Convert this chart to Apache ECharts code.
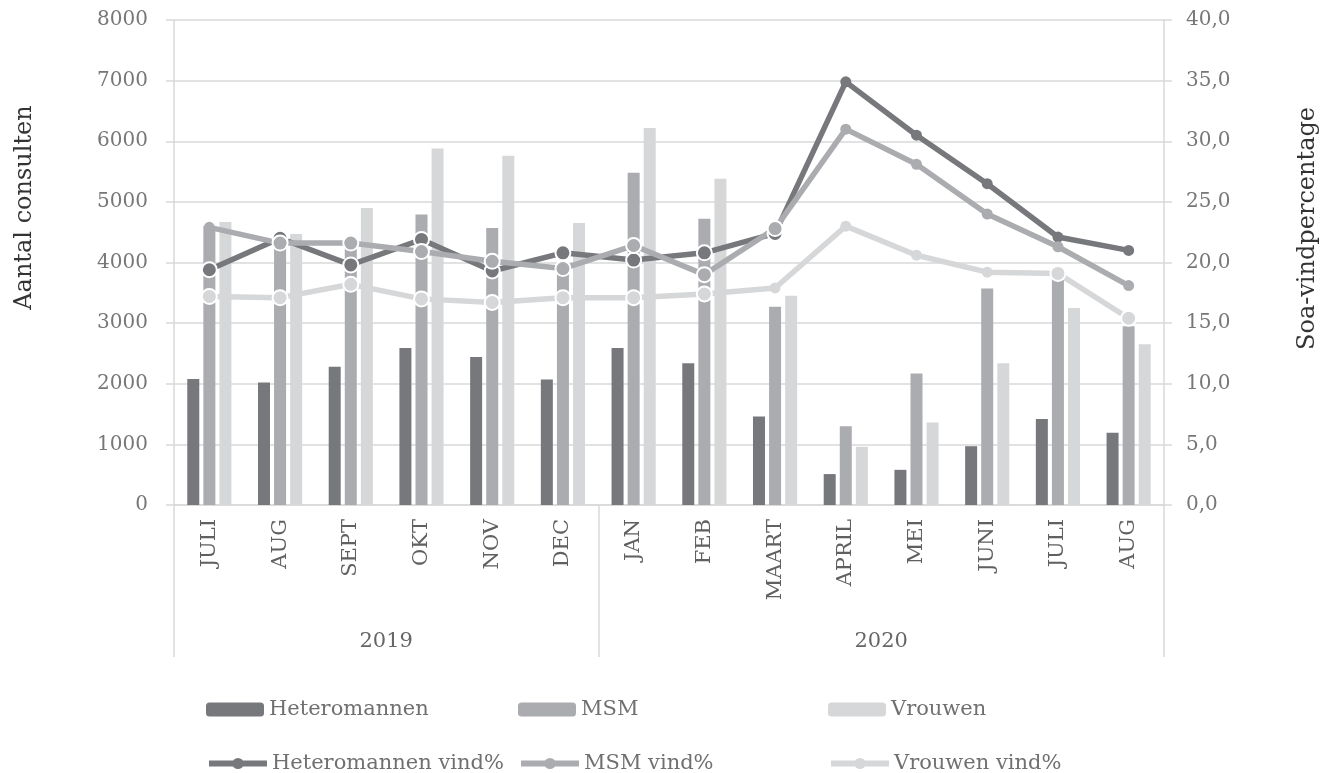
<!DOCTYPE html>
<html>
<head>
<meta charset="utf-8">
<script src="https://cdn.jsdelivr.net/npm/echarts@6/dist/echarts.min.js"></script>
<style>
html,body{margin:0;padding:0;background:#fff;}
#chart{width:1336px;height:773px;}
</style>
</head>
<body>
<div id="chart"></div>
<script>
// ---- data ----
const months = ['JULI','AUG','SEPT','OKT','NOV','DEC','JAN','FEB','MAART','APRIL','MEI','JUNI','JULI','AUG'];
const years = ['2019','2020'];
const yearMonthCounts = [6, 8];
const heteroCounts  = [2080, 2020, 2280, 2590, 2440, 2070, 2590, 2340, 1460, 510, 580, 970, 1420, 1190];
const msmCounts     = [4600, 4400, 4340, 4790, 4570, 3920, 5480, 4720, 3270, 1300, 2170, 3570, 3780, 2950];
const vrouwenCounts = [4670, 4470, 4900, 5880, 5760, 4650, 6220, 5380, 3450, 960, 1360, 2340, 3250, 2650];
const heteroPct  = [19.4, 22.0, 19.8, 21.9, 19.3, 20.8, 20.2, 20.8, 22.4, 34.9, 30.5, 26.5, 22.1, 21.0];
const msmPct     = [22.9, 21.6, 21.6, 20.9, 20.1, 19.5, 21.4, 19.0, 22.8, 31.0, 28.1, 24.0, 21.3, 18.1];
const vrouwenPct = [17.2, 17.1, 18.2, 17.0, 16.7, 17.1, 17.1, 17.4, 17.9, 23.0, 20.6, 19.2, 19.1, 15.4];
const leftTicks = {min: 0, max: 8000, interval: 1000};
const rightTicks = {min: 0, max: 40, interval: 5};

// ---- style ----
const FONT = 'DejaVu Serif';
const C_HET = '#77787c', C_MSM = '#abacb0', C_VRW = '#d6d7d9';
const GRIDC = '#d9d9d9';
const plainMarkers = {het: [9,10,11,12,13], msm: [0,9,10,11,12,13], vrw: [8,9,10,11]};

// year label centres on the [0, months.length] band scale
const yearCentres = {};
let acc = 0;
years.forEach((y, i) => { yearCentres[acc + yearMonthCounts[i] / 2] = y; acc += yearMonthCounts[i]; });
const sepIdx = [];
acc = 0;
yearMonthCounts.forEach(n => { sepIdx.push(acc); acc += n; });

function lineData(vals, plain) {
  return vals.map((v, i) => plain.includes(i)
    ? {value: v, symbolSize: 11, itemStyle: {borderWidth: 0}}
    : v);
}
function barSeries(name, data, color) {
  return {name, type: 'bar', data, barWidth: 12, barGap: '34%',
    itemStyle: {color}, xAxisIndex: 0, yAxisIndex: 0};
}
function lineSeries(name, data, color, plain) {
  return {name, type: 'line', data: lineData(data, plain), yAxisIndex: 1, xAxisIndex: 0,
    symbol: 'circle', symbolSize: 15,
    lineStyle: {color, width: 5.5},
    itemStyle: {color, borderColor: '#ffffff', borderWidth: 2}, z: 3};
}

const chart = echarts.init(document.getElementById('chart'), null, {renderer: 'canvas'});
const legendText = {fontFamily: FONT, fontSize: 21, color: '#707070'};
function legendItem(name, left, top, isLine) {
  const o = {left, top, itemWidth: 58, itemHeight: 14, textStyle: legendText,
    selectedMode: false, data: [name], padding: 0};
  if (isLine) {
    o.lineStyle = {width: 6};
    o.itemStyle = {borderWidth: 0};
  }
  return o;
}

chart.setOption({
  animation: false,
  backgroundColor: '#ffffff',
  grid: {left: 174, right: 172, top: 20, bottom: 268, containLabel: false},
  legend: [
    legendItem('Heteromannen', 206, 699, false),
    legendItem('MSM', 518, 699, false),
    legendItem('Vrouwen', 828, 699, false),
    legendItem('Heteromannen vind%', 206, 753, true),
    legendItem('MSM vind%', 518, 753, true),
    legendItem('Vrouwen vind%', 828, 753, true)
  ],
  xAxis: [
    {type: 'category', data: months, boundaryGap: true, position: 'bottom',
      axisLine: {show: true, lineStyle: {color: GRIDC, width: 1.5}},
      axisTick: {show: true, length: 152, interval: (idx) => sepIdx.includes(idx),
        lineStyle: {color: GRIDC, width: 1.5}},
      axisLabel: {rotate: 90, margin: 14, interval: 0, fontFamily: FONT, fontSize: 21, color: '#606060'},
      splitLine: {show: false}},
    {type: 'value', min: 0, max: months.length, interval: 1, position: 'bottom', offset: 118,
      axisLine: {show: false}, axisTick: {show: false}, splitLine: {show: false},
      axisLabel: {fontFamily: FONT, fontSize: 21, color: '#666', margin: 8,
        showMinLabel: true, showMaxLabel: true,
        formatter: (v) => yearCentres[v] || ''}}
  ],
  yAxis: [
    {type: 'value', min: leftTicks.min, max: leftTicks.max, interval: leftTicks.interval, position: 'left',
      name: 'Aantal consulten', nameLocation: 'middle', nameRotate: 90, nameGap: 137,
      nameTextStyle: {fontFamily: FONT, fontSize: 24, color: '#333', padding: [0, 0, 0, 110]},
      axisLine: {show: true, lineStyle: {color: GRIDC, width: 1.5}},
      axisTick: {show: true, length: 8, lineStyle: {color: GRIDC, width: 1.5}},
      axisLabel: {fontFamily: FONT, fontSize: 20, color: '#777', margin: 26,
        formatter: (v) => String(v)},
      splitLine: {show: true, lineStyle: {color: GRIDC, width: 1.5}}},
    {type: 'value', min: rightTicks.min, max: rightTicks.max, interval: rightTicks.interval, position: 'right',
      name: 'Soa-vindpercentage', nameLocation: 'middle', nameRotate: 90, nameGap: 132,
      nameTextStyle: {fontFamily: FONT, fontSize: 24, color: '#333', padding: [0, 0, 0, 68]},
      axisLine: {show: true, lineStyle: {color: GRIDC, width: 1.5}},
      axisTick: {show: true, length: 8, lineStyle: {color: GRIDC, width: 1.5}},
      axisLabel: {fontFamily: FONT, fontSize: 20, color: '#777', margin: 22,
        formatter: (v) => v.toFixed(1).replace('.', ',')},
      splitLine: {show: false}}
  ],
  series: [
    barSeries('Heteromannen', heteroCounts, C_HET),
    barSeries('MSM', msmCounts, C_MSM),
    barSeries('Vrouwen', vrouwenCounts, C_VRW),
    lineSeries('Heteromannen vind%', heteroPct, C_HET, plainMarkers.het),
    lineSeries('MSM vind%', msmPct, C_MSM, plainMarkers.msm),
    lineSeries('Vrouwen vind%', vrouwenPct, C_VRW, plainMarkers.vrw)
  ]
});
</script>
</body>
</html>
